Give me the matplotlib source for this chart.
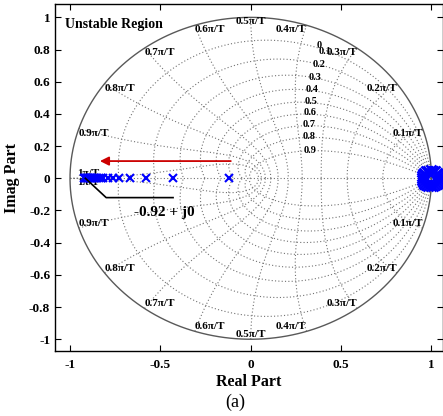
import numpy as np
import matplotlib.pyplot as plt

plt.rcParams['font.family'] = ['Liberation Serif', 'DejaVu Serif']
plt.rcParams['font.weight'] = 'bold'
plt.rcParams['axes.labelweight'] = 'bold'
plt.rcParams['axes.unicode_minus'] = False

# closed-loop poles
poles_left_re = [-0.92, -0.915, -0.91, -0.905, -0.90, -0.895, -0.89, -0.885, -0.88, -0.87,
                 -0.86, -0.85, -0.84, -0.83, -0.82, -0.79, -0.76, -0.73, -0.67, -0.58,
                 -0.43, -0.12]
poles_left_im = [0.0] * len(poles_left_re)
# ring of poles around z = 1
poles_ring_re = [1.045, 1.041, 1.036, 1.029, 1.020, 1.008, 0.995, 0.982, 0.970, 0.961,
                 0.954, 0.949, 0.947, 0.949, 0.954, 0.961, 0.970, 0.982, 0.995, 1.008,
                 1.020, 1.029, 1.036, 1.041]
poles_ring_im = [0.0, 0.013, 0.025, 0.035, 0.043, 0.048, 0.05, 0.048, 0.043, 0.035,
                 0.025, 0.013, 0.0, -0.013, -0.025, -0.035, -0.043, -0.048, -0.05, -0.048,
                 -0.043, -0.035, -0.025, -0.013]

# zgrid settings
zeta_vals = [0.1, 0.2, 0.3, 0.4, 0.5, 0.6, 0.7, 0.8, 0.9]
wn_fracs = [0.1, 0.2, 0.3, 0.4, 0.5, 0.6, 0.7, 0.8, 0.9, 1.0]
wn_labels = ['0.1', '0.2', '0.3', '0.4', '0.5', '0.6', '0.7', '0.8', '0.9', '1']
zeta_labels = ['0', '0.1', '0.2', '0.3', '0.4', '0.5', '0.6', '0.7', '0.8', '0.9']

xticks = [-1, -0.5, 0, 0.5, 1]
yticks = [-1, -0.8, -0.6, -0.4, -0.2, 0, 0.2, 0.4, 0.6, 0.8, 1]

fig = plt.figure(figsize=(4.43, 4.16), dpi=100)
ax = fig.add_axes([0.1242, 0.1563, 0.8747, 0.8329])

grid_kw = dict(color='0.45', lw=0.8, ls=(0, (1, 2)), zorder=1)

# constant damping lines
for z in zeta_vals:
    w = np.linspace(0, np.pi / np.sqrt(1 - z**2), 300)
    zz = np.exp(w * (-z + 1j * np.sqrt(1 - z**2)))
    ax.plot(zz.real, zz.imag, **grid_kw)
    ax.plot(zz.real, -zz.imag, **grid_kw)
ax.plot([-1, 1], [0, 0], **grid_kw)

# constant natural frequency lines
zeta_fine = np.linspace(0, 1, 200)
for f in wn_fracs:
    wn = f * np.pi
    zz = np.exp(wn * (-zeta_fine + 1j * np.sqrt(1 - zeta_fine**2)))
    ax.plot(zz.real, zz.imag, **grid_kw)
    ax.plot(zz.real, -zz.imag, **grid_kw)

# unit circle
th = np.linspace(0, 2 * np.pi, 400)
ax.plot(np.cos(th), np.sin(th), color='0.35', lw=1.0, zorder=2)

# wn labels
for f, lab in zip(wn_fracs, wn_labels):
    a = f * np.pi
    x, y = np.cos(a), np.sin(a)
    if f < 0.5:
        ha = 'right'
    elif f > 0.5:
        ha = 'left'
    else:
        ha = 'center'
    if f == 1.0:
        x = -0.96
    ax.text(x, y, lab + 'π/T', ha=ha, va='top', fontsize=8, zorder=3)
    ax.text(x, -y, lab + 'π/T', ha=ha, va='bottom', fontsize=8, zorder=3)

# damping labels
for z, lab in zip([0.0] + zeta_vals, zeta_labels):
    zz = np.exp(-z + 1j * np.sqrt(1 - z**2))
    lx = zz.real - 0.05 * (1 - z)
    ly = zz.imag + 0.035 * (1 - z)
    if z == 0.0:
        lx, ly = lx - 0.1, ly - 0.05
    ax.text(lx, ly, lab, ha='right', va='center', fontsize=7.5, zorder=3)

ax.plot(poles_left_re, poles_left_im, 'x', color='blue', ms=6, mew=1.5, zorder=4)
ax.plot(poles_ring_re, poles_ring_im, 'x', color='blue', ms=7, mew=1.8, zorder=4)

ax.annotate('', xy=(-0.85, 0.107), xytext=(-0.095, 0.107),
            arrowprops=dict(arrowstyle='-|>', color='#cc0000', lw=1.3, mutation_scale=13), zorder=5)
ax.plot([-0.915, -0.80, -0.43], [0.0, -0.12, -0.12], color='black', lw=1.2, zorder=5)
ax.text(-0.48, -0.21, '-0.92 + j0', ha='center', va='center', fontsize=11, fontweight='bold')
ax.text(-1.03, 0.957, 'Unstable Region', ha='left', va='center', fontsize=10, fontweight='bold')

ax.set_xlim(-1.083, 1.061)
ax.set_ylim(-1.073, 1.08)
ax.set_xticks(xticks)
ax.set_yticks(yticks)
ax.set_xticklabels([f'{v:g}' for v in xticks], fontweight='bold')
ax.set_yticklabels([f'{v:g}' for v in yticks], fontweight='bold')
ax.tick_params(direction='in', top=True, right=True, length=4, width=0.8, labelsize=9.5)
ax.tick_params(axis='x', pad=6)
ax.tick_params(axis='y', pad=3.5)
for sp in ax.spines.values():
    sp.set_linewidth(1.0)

ax.set_xlabel('Real Part', fontsize=11.5, fontweight='bold')
ax.xaxis.set_label_coords(0.5, -0.09)
ax.xaxis.label.set_va('center')
ax.set_ylabel('Imag Part', fontsize=11.5, fontweight='bold')
ax.yaxis.set_label_coords(-0.11, 0.5)
ax.yaxis.label.set_va('center')

fig.text(0.530, 0.034, '(a)', ha='center', va='center', fontsize=13, fontweight='normal')

plt.savefig('out.png', dpi=100)
